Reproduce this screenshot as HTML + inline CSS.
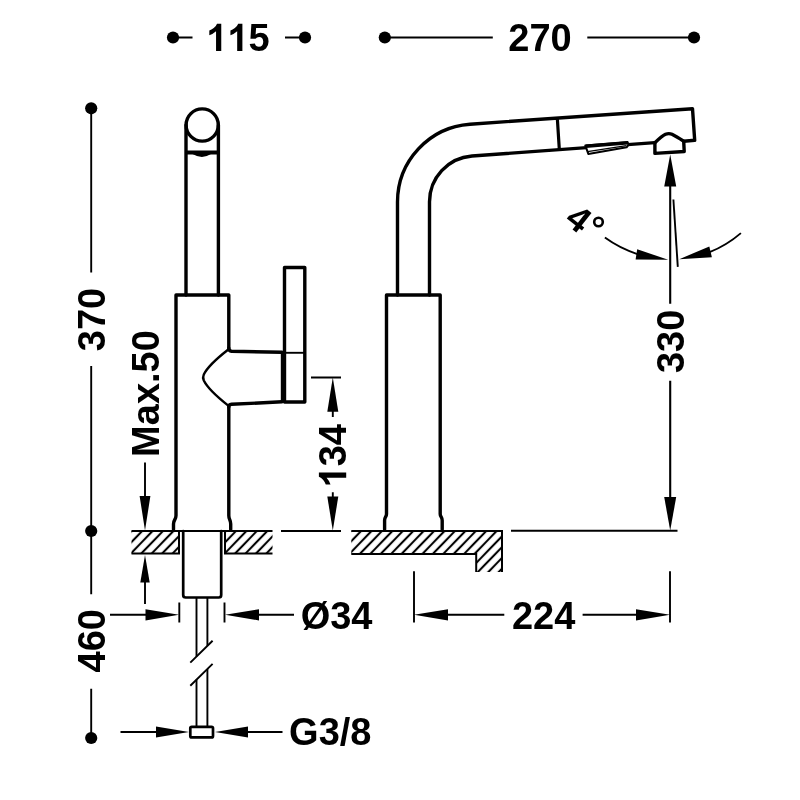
<!DOCTYPE html>
<html><head><meta charset="utf-8">
<style>
html,body{margin:0;padding:0;background:#fff;}
body{width:800px;height:800px;overflow:hidden;}
svg{display:block;will-change:transform;transform:translateZ(0);}
text{font-family:"Liberation Sans",sans-serif;font-weight:bold;font-size:38px;fill:#000;}
.m{fill:none;stroke:#000;stroke-width:3.4;stroke-linejoin:round;stroke-linecap:round;}
.m2{fill:none;stroke:#000;stroke-width:2.7;stroke-linejoin:round;stroke-linecap:round;}
.d{fill:none;stroke:#000;stroke-width:1.9;stroke-linecap:butt;}
.h{fill:none;stroke:#000;stroke-width:2;}
.a{fill:#000;stroke:none;}
</style></head>
<body>
<svg width="800" height="800" viewBox="0 0 800 800">
<defs>
<pattern id="hatch" width="7.500" height="8" patternUnits="userSpaceOnUse" patternTransform="translate(3.3,0) rotate(44)">
<line x1="3.750" y1="-1" x2="3.750" y2="9" stroke="#000" stroke-width="2.1"/>
</pattern>
<path id="one" d="M806 0H525V1059Q371 915 162 846V1101Q272 1137 401 1237.500Q530 1338 578 1472H806Z"/>
</defs>
<rect width="800" height="800" fill="#fff"/>

<!-- ===== top dimensions ===== -->
<circle class="a" cx="173" cy="37.5" r="6.1"/>
<circle class="a" cx="305" cy="37.5" r="6.1"/>
<path class="d" d="M173 37.5H192.5M285 37.5H305"/>
<use href="#one" transform="translate(206.31,51) scale(0.01855,-0.01855)"/><use href="#one" transform="translate(227.44,51) scale(0.01855,-0.01855)"/><text x="248.56" y="51">5</text>

<circle class="a" cx="384.8" cy="37.5" r="6.1"/>
<circle class="a" cx="694" cy="37.5" r="6.1"/>
<path class="d" d="M384.8 37.5H492.8M587.3 37.5H694"/>
<text x="540" y="51" text-anchor="middle">270</text>

<!-- ===== left vertical dimension 370/460 ===== -->
<circle class="a" cx="91.2" cy="108.3" r="6.1"/>
<circle class="a" cx="91.200" cy="531" r="6.100"/>
<circle class="a" cx="91.2" cy="738" r="6.1"/>
<path class="d" d="M91.200 108V272.500M91.200 366V594.300M91.200 688.800V738"/>
<text transform="translate(105,319.5) rotate(-90)" text-anchor="middle">370</text>
<text transform="translate(105.300,640.700) rotate(-90)" text-anchor="middle">460</text>

<!-- Max.50 -->
<text transform="translate(158.600,393.500) rotate(-90)" text-anchor="middle">Max.50</text>
<path class="d" d="M145 462.5V500M145 580V604"/>
<path class="a" d="M145 530.5L139.6 496H150.4Z"/>
<path class="a" d="M145 555L140.300 582.500H149.700Z"/>

<!-- ===== left view faucet ===== -->
<circle class="m" cx="202.2" cy="125" r="16.1"/>
<path class="m" d="M186 125V295M218.400 125V295"/>
<path d="M186 152.500H218.400" stroke="#000" stroke-width="4.2" fill="none"/>
<path class="a" d="M192.500 154Q202 159.800 211 154Z"/>
<!-- body -->
<path class="m" d="M228.800 348V295H176V515.500C176 520 173.500 519.500 173.500 524V529.500"/>
<path class="m" d="M228.800 407V515.500C228.800 520 230.700 519.500 230.700 524V529.500"/>
<!-- arm -->
<path class="m" d="M282 352.300L231.500 351.200Q228.800 351 228.800 348M282 401.800L231.500 404.300Q228.800 404.500 228.800 407"/>
<path d="M228 349.800Q208.500 365 203.800 374.500Q202.400 377.500 203.800 380.500Q208.500 390 228 405.400" fill="none" stroke="#000" stroke-width="2.400" stroke-linejoin="round" stroke-linecap="round"/>
<!-- lever -->
<path class="m" d="M284.5 402V267.5H304.8V402Z"/>
<path d="M283.300 351V402" stroke="#000" stroke-width="5" fill="none"/>
<path class="d" d="M285 352.8H304.5"/>

<!-- countertop left view -->
<rect x="131.5" y="531" width="47.5" height="22.5" fill="url(#hatch)"/>
<rect x="225" y="531" width="47.5" height="22.5" fill="url(#hatch)"/>
<path class="h" d="M131.5 531H272.5M131.5 553.5H179V531M272.5 553.5H225V531"/>
<!-- shank -->
<path class="m2" d="M183.200 531V595Q183.200 597.500 185.700 597.500H218.700Q221.200 597.500 221.200 595V531"/>
<!-- hose -->
<path class="d" d="M196.500 597.500V656.500M207.400 597.500V645.800M196.500 679.800V726M207.400 669V726"/>
<path class="d" d="M190.300 662.600L212.600 640.800M190.300 685.800L212.600 663.900"/>
<rect class="m2" x="190.300" y="726.800" width="22.700" height="10.600" rx="1.500"/>

<!-- Ø34 -->
<path class="d" d="M179.300 602.500V622.500M224.500 602.500V622.500M110 614.800H150M255 614.800H294"/>
<path class="a" d="M179 614.800L145.500 609.200V620.400Z"/>
<path class="a" d="M225 614.800L259 609.200V620.400Z"/>
<text x="336.600" y="628.600" text-anchor="middle">Ø34</text>

<!-- G3/8 -->
<path class="d" d="M120.500 732H160M245 732H282.500"/>
<path class="a" d="M189 732L156 726.400V737.600Z"/>
<path class="a" d="M215 732L248 726.400V737.600Z"/>
<text x="330.300" y="745.400" text-anchor="middle">G3/8</text>

<!-- 134 -->
<path class="d" d="M311 377.500H341M281 531H341M332.800 405V417M332.800 492.300V500"/>
<path class="a" d="M332.800 377.500L327.300 411.700H338.300Z"/>
<path class="a" d="M332.800 530.500L327.300 496.500H338.300Z"/>
<g transform="translate(346.200,455.800) rotate(-90)"><use href="#one" transform="translate(-31.69,0) scale(0.01855,-0.01855)"/><text x="-10.56" y="0">34</text></g>

<!-- ===== right view ===== -->
<path class="m" d="M397.500 295V202A78 78 0 0 1 470 124.200L692.500 108.700L694.700 140.300L683.700 141.200"/>
<path class="m" d="M429.500 295V202A46 46 0 0 1 472 156L654.900 142.600"/>
<path class="m" d="M557.400 119.500L559.300 149" style="stroke-width:3.2"/>
<!-- nozzle -->
<path class="m" d="M654.900 142.700V153.400L684.200 151.500L683.700 141.200Q676 136.400 672 134.300Q668.900 132.900 665.500 134.300Q662 136 654.900 142.700Z"/>
<!-- button -->
<path d="M585.300 145.400L627.600 142L628.500 144.800L626.600 147.300L588.300 153.900Z" fill="#fff" stroke="#000" stroke-width="2" stroke-linejoin="round"/>
<path d="M585.800 146.300L628 142.900" stroke="#000" stroke-width="3.400" fill="none"/>
<path d="M587.500 151.600L626.500 145.600" stroke="#000" stroke-width="1.300" fill="none"/>
<!-- body right -->
<path class="m" d="M384.600 529.500V520.500C384.600 517 386.500 517 386.500 514V295H440.200V514C440.200 517 442.200 517 442.200 520.500V529.500"/>
<!-- countertop right -->
<path d="M351.300 531H502V572H476.200V554H351.300Z" fill="url(#hatch)"/>
<path class="h" d="M351.300 531H502V572M476.200 572V554H351.300"/>
<!-- extension -->
<path class="d" d="M511 530.800H677.500"/>

<!-- 330 -->
<path class="d" d="M670.200 180V303.800M670.200 380.800V500" style="stroke-width:2.1"/>
<path class="a" d="M670.200 154.500L664.200 186.500H676.200Z"/>
<path class="a" d="M670.200 530.500L664.200 497H676.200Z"/>
<text transform="translate(683.500,341.400) rotate(-90)" text-anchor="middle">330</text>
<path class="d" d="M673.400 199.500L677.800 266.900"/>

<!-- 4 deg -->
<path class="d" d="M604.900 237.600A115 115 0 0 0 638 254.300M709 252.400A112 112 0 0 0 740.900 233.100"/>
<path class="a" d="M668.200 259.800L635.600 259.500L637.200 249.200Z"/>
<path class="a" d="M679.300 259.200L711.900 257.300L709.300 246.400Z"/>
<text transform="translate(563.200,222.200) rotate(38)" style="font-size:36px">4</text>
<circle cx="598.500" cy="222" r="4.300" fill="none" stroke="#000" stroke-width="2.600"/>

<!-- 224 -->
<path class="d" d="M414 571.300V622.500M670 571.300V622.500M440 614.800H504.300M582.600 614.800H640"/>
<path class="a" d="M414 614.800L448 609.200V620.400Z"/>
<path class="a" d="M670 614.800L636 609.200V620.400Z"/>
<text x="543.600" y="629.200" text-anchor="middle">224</text>
</svg>
</body></html>
